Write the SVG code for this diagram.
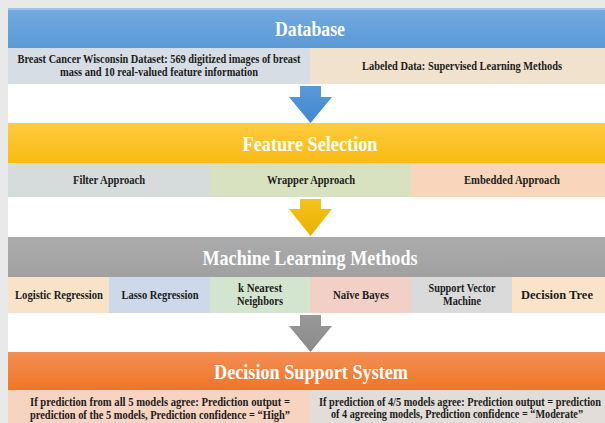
<svg xmlns="http://www.w3.org/2000/svg" width="605" height="423" viewBox="0 0 605 423">
<defs>
<linearGradient id="gBlue" x1="0" y1="0" x2="0" y2="1"><stop offset="0" stop-color="#74aadf"/><stop offset="1" stop-color="#5a9ad6"/></linearGradient>
<linearGradient id="gGold" x1="0" y1="0" x2="0" y2="1"><stop offset="0" stop-color="#ffca3f"/><stop offset="1" stop-color="#f8bc12"/></linearGradient>
<linearGradient id="gGray" x1="0" y1="0" x2="0" y2="1"><stop offset="0" stop-color="#acacac"/><stop offset="1" stop-color="#a0a0a0"/></linearGradient>
<linearGradient id="gOrange" x1="0" y1="0" x2="0" y2="1"><stop offset="0" stop-color="#f38f55"/><stop offset="1" stop-color="#f07526"/></linearGradient>
<linearGradient id="gArrowBlue" x1="0" y1="0" x2="0" y2="1"><stop offset="0" stop-color="#5a9ad6"/><stop offset="1" stop-color="#3f87cf"/></linearGradient>
<linearGradient id="gArrowGold" x1="0" y1="0" x2="0" y2="1"><stop offset="0" stop-color="#f6c21e"/><stop offset="1" stop-color="#eab000"/></linearGradient>
<linearGradient id="gArrowGray" x1="0" y1="0" x2="0" y2="1"><stop offset="0" stop-color="#999999"/><stop offset="1" stop-color="#8a8a8a"/></linearGradient>
</defs>
<style>
.title{font-family:"Liberation Serif","Times New Roman",serif;font-weight:bold;font-size:21px;fill:#ffffff;text-anchor:middle}
.lbl{font-family:"Liberation Serif","Times New Roman",serif;font-weight:bold;font-size:11.5px;fill:#1c1c1c;text-anchor:middle}
</style>
<rect x="0" y="0" width="605" height="423" fill="#e9e9e9"/>
<rect x="8" y="8" width="597" height="415" fill="#ffffff"/>

<g id="database">
<rect x="8" y="8" width="597" height="40" fill="url(#gBlue)"/>
<rect x="8" y="8" width="597" height="2" fill="#9cc3ea"/>
<text class="title" x="310" y="36" textLength="70" lengthAdjust="spacingAndGlyphs">Database</text>
</g>
<g id="db-dataset">
<rect x="8" y="48" width="302" height="36" fill="#d7dde5"/>
<text class="lbl" x="159" y="63" textLength="283" lengthAdjust="spacingAndGlyphs">Breast Cancer Wisconsin Dataset: 569 digitized images of breast</text>
<text class="lbl" x="159" y="76" textLength="198" lengthAdjust="spacingAndGlyphs">mass and 10 real-valued feature information</text>
</g>
<g id="db-labeled">
<rect x="310" y="48" width="295" height="36" fill="#f1e2cd"/>
<text class="lbl" x="462" y="70" textLength="200" lengthAdjust="spacingAndGlyphs">Labeled Data: Supervised Learning Methods</text>
</g>

<g id="feature-selection">
<rect x="8" y="123" width="597" height="40" fill="url(#gGold)"/>
<text class="title" x="310" y="151" textLength="135" lengthAdjust="spacingAndGlyphs">Feature Selection</text>
</g>
<g id="fs-filter">
<rect x="8" y="163" width="202" height="34" fill="#d6dcdc"/>
<text class="lbl" x="109" y="184" textLength="72" lengthAdjust="spacingAndGlyphs">Filter Approach</text>
</g>
<g id="fs-wrapper">
<rect x="210" y="163" width="201" height="34" fill="#d9e2c0"/>
<text class="lbl" x="311" y="184" textLength="88" lengthAdjust="spacingAndGlyphs">Wrapper Approach</text>
</g>
<g id="fs-embedded">
<rect x="411" y="163" width="194" height="34" fill="#f8d5bb"/>
<text class="lbl" x="512" y="184" textLength="96" lengthAdjust="spacingAndGlyphs">Embedded Approach</text>
</g>

<g id="ml-methods">
<rect x="8" y="237" width="597" height="40" fill="url(#gGray)"/>
<text class="title" x="310" y="265" textLength="215" lengthAdjust="spacingAndGlyphs">Machine Learning Methods</text>
</g>
<g id="ml-logistic">
<rect x="8" y="277" width="101" height="36" fill="#f9e3c8"/>
<text class="lbl" x="59" y="299" textLength="88" lengthAdjust="spacingAndGlyphs">Logistic Regression</text>
</g>
<g id="ml-lasso">
<rect x="109" y="277" width="101" height="36" fill="#cdd9ea"/>
<text class="lbl" x="160" y="299" textLength="77" lengthAdjust="spacingAndGlyphs">Lasso Regression</text>
</g>
<g id="ml-knn">
<rect x="210" y="277" width="100" height="36" fill="#d4e5cf"/>
<text class="lbl" x="260" y="292" textLength="44" lengthAdjust="spacingAndGlyphs">k Nearest</text>
<text class="lbl" x="260" y="305" textLength="46" lengthAdjust="spacingAndGlyphs">Neighbors</text>
</g>
<g id="ml-naive">
<rect x="310" y="277" width="101" height="36" fill="#f2d0c8"/>
<text class="lbl" x="361" y="299" textLength="56" lengthAdjust="spacingAndGlyphs">Naïve Bayes</text>
</g>
<g id="ml-svm">
<rect x="411" y="277" width="101" height="36" fill="#dadada"/>
<text class="lbl" x="462" y="292" textLength="67" lengthAdjust="spacingAndGlyphs">Support Vector</text>
<text class="lbl" x="462" y="305" textLength="38" lengthAdjust="spacingAndGlyphs">Machine</text>
</g>
<g id="ml-tree">
<rect x="512" y="277" width="93" height="36" fill="#fbe3c9"/>
<text class="lbl" x="557" y="299" textLength="72" lengthAdjust="spacingAndGlyphs">Decision Tree</text>
</g>

<g id="dss">
<rect x="8" y="352" width="597" height="38" fill="url(#gOrange)"/>
<text class="title" x="311" y="379" textLength="194" lengthAdjust="spacingAndGlyphs">Decision Support System</text>
</g>
<g id="dss-high">
<rect x="8" y="390" width="302" height="33" fill="#f7d3c1"/>
<text class="lbl" x="160" y="406" textLength="260" lengthAdjust="spacingAndGlyphs">If prediction from all 5 models agree: Prediction output =</text>
<text class="lbl" x="160" y="419" textLength="260" lengthAdjust="spacingAndGlyphs">prediction of the 5 models, Prediction confidence = “High”</text>
</g>
<g id="dss-moderate">
<rect x="310" y="390" width="295" height="33" fill="#e2ddd8"/>
<text class="lbl" x="460" y="406" textLength="282" lengthAdjust="spacingAndGlyphs">If prediction of 4/5 models agree: Prediction output = prediction</text>
<text class="lbl" x="457" y="418" textLength="252" lengthAdjust="spacingAndGlyphs">of 4 agreeing models, Prediction confidence = “Moderate”</text>
</g>

<g id="connectors">
<polygon points="300,86 321,86 321,97 332,97 310.5,123 289,97 300,97" fill="url(#gArrowBlue)"/>
<polygon points="300,199 321,199 321,209 332,209 310.5,236 289,209 300,209" fill="url(#gArrowGold)"/>
<polygon points="300,315 321,315 321,326 332,326 310.5,352 289,326 300,326" fill="url(#gArrowGray)"/>
</g>
</svg>
